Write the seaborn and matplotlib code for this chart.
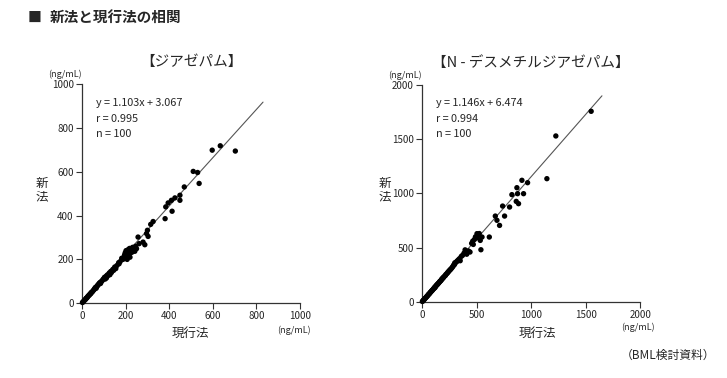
import numpy as np
import pandas as pd
import matplotlib
matplotlib.use('Agg')
import matplotlib.pyplot as plt
import seaborn as sns

# ジアゼパム (現行法, 新法)
dz_x = [2, 5, 8, 12, 15, 18, 20, 22, 25, 28, 32, 35, 38, 40, 42, 45, 48, 52, 55, 58,
        60, 63, 65, 66, 70, 72, 75, 78, 80, 84, 85, 88, 92, 96,
        100, 103, 106, 110, 112, 115, 118, 122, 125, 128, 132, 135, 138, 142, 145, 150,
        155, 160, 168, 170, 175, 182, 188,
        192, 195, 198, 200, 202, 205, 207, 210, 212, 215, 218, 220, 225, 228, 232, 236, 242, 246,
        250, 257, 262, 280, 288, 296, 300, 303, 315, 326, 381, 384, 395, 410, 413, 426,
        449, 449, 469, 510, 530, 537, 597, 634, 703]
dz_y = [3, 6, 9, 14, 16, 21, 22, 25, 27, 33, 35, 40, 42, 44, 48, 50, 53, 58, 62, 65,
        70, 72, 68, 75, 78, 82, 85, 88, 92, 95, 90, 98, 102, 108,
        112, 118, 110, 122, 115, 128, 125, 132, 138, 130, 145, 140, 148, 155, 150, 165,
        158, 172, 185, 180, 190, 205, 200,
        210, 220, 230, 215, 240, 225, 200, 235, 245, 222, 250, 210, 240, 232, 255, 248, 237, 260,
        249, 302, 272, 279, 267, 318, 333, 305, 360, 373, 386, 440, 458, 470, 420, 481,
        470, 493, 531, 602, 597, 547, 699, 719, 695]

# N-デスメチルジアゼパム (現行法, 新法)
nd_x = [3, 8, 12, 16, 20, 25, 30, 35, 40, 45, 50, 55, 60, 65, 70, 75, 80, 85, 90, 95,
        100, 105, 110, 115, 118, 120, 125, 130, 135, 140, 145, 150,
        155, 160, 165, 170, 175, 180, 185, 190, 195, 200, 208, 215, 220, 228, 235, 240,
        248, 255, 262, 270, 278, 285, 290, 298, 300,
        310, 318, 325, 335, 345, 350, 360, 372, 385, 395, 410, 425, 440,
        455, 465, 470, 480, 490, 500, 504, 515, 525, 534, 540, 550, 617,
        672, 687, 711, 739, 757, 803, 824, 864, 870, 876, 885, 916, 931, 968, 1145, 1227, 1551]
nd_y = [5, 10, 15, 18, 25, 30, 35, 40, 47, 52, 56, 65, 70, 74, 80, 88, 92, 98, 105, 108,
        115, 122, 125, 135, 132, 138, 145, 150, 158, 160, 168, 172,
        178, 185, 190, 195, 200, 210, 212, 220, 225, 230, 240, 245, 255, 262, 270, 278,
        285, 295, 300, 310, 320, 330, 340, 345, 360,
        365, 372, 380, 390, 400, 380, 420, 430, 450, 480, 440, 470, 460,
        540, 560, 530, 575, 600, 590, 629, 610, 630, 567, 481, 598, 598,
        791, 752, 705, 883, 791, 874, 988, 926, 1052, 997, 905, 1120, 997, 1098, 1135, 1528, 1755]

titles = ['【ジアゼパム】', '【N - デスメチルジアゼパム】']
equations = [['y = 1.103x + 3.067', 'r = 0.995', 'n = 100'],
             ['y = 1.146x + 6.474', 'r = 0.994', 'n = 100']]
slopes = [1.103, 1.146]
intercepts = [3.067, 6.474]
line_ends = [830, 1650]
limits = [1000, 2000]
tick_steps = [200, 500]

sns.set_style('white')
plt.rcParams['font.family'] = ['Noto Sans CJK JP', 'DejaVu Sans']

fig = plt.figure(figsize=(7.27, 3.78), dpi=100)
axes = [fig.add_axes([0.1128, 0.198, 0.300, 0.579]),
        fig.add_axes([0.5805, 0.201, 0.300, 0.575])]

# label positions (axes fractions) for x unit and x label
unit_pos = [(0.97, -0.125), (0.99, -0.117)]
xlab_pos = [(0.495, -0.14), (0.53, -0.145)]

datasets = [pd.DataFrame({'x': dz_x, 'y': dz_y}), pd.DataFrame({'x': nd_x, 'y': nd_y})]

for i, ax in enumerate(axes):
    df = datasets[i]
    sns.scatterplot(data=df, x='x', y='y', ax=ax, color='black', s=15,
                    edgecolor='none', zorder=3, clip_on=False)
    lx = np.array([0, line_ends[i]])
    ax.plot(lx, slopes[i] * lx + intercepts[i], color='#555555', lw=0.8, zorder=2)

    ax.set_xlim(0, limits[i])
    ax.set_ylim(0, limits[i])
    ax.set_xticks(np.arange(0, limits[i] + 1, tick_steps[i]))
    ax.set_yticks(np.arange(0, limits[i] + 1, tick_steps[i]))
    for s in ['top', 'right']:
        ax.spines[s].set_visible(False)
    for s in ['left', 'bottom']:
        ax.spines[s].set_color('#333333')
        ax.spines[s].set_linewidth(0.9)
    ax.tick_params(axis='both', direction='out', length=4, width=0.8,
                   labelsize=7, color='#333333', pad=2, left=True, bottom=True)
    ax.set_xlabel('')
    ax.set_ylabel('')

    ax.text(0.5, 1.10, titles[i], transform=ax.transAxes, ha='center',
            va='center', fontsize=10.5)
    ax.text(-0.08, 1.045, '(ng/mL)', transform=ax.transAxes, ha='center',
            va='center', fontsize=6.5)
    ax.text(unit_pos[i][0], unit_pos[i][1], '(ng/mL)', transform=ax.transAxes,
            ha='center', va='center', fontsize=6.5)
    ax.text(xlab_pos[i][0], xlab_pos[i][1], '現行法', transform=ax.transAxes,
            ha='center', va='center', fontsize=9)
    for k, line in enumerate(equations[i]):
        ax.text(0.065, 0.915 - k * 0.072, line, transform=ax.transAxes,
                ha='left', va='center', fontsize=7.8)

fig.text(42 / 727, 1 - 190 / 378, '新\n法', ha='center', va='center',
         fontsize=9, linespacing=1.0)
fig.text(385 / 727, 1 - 190 / 378, '新\n法', ha='center', va='center',
         fontsize=9, linespacing=1.0)

fig.text(28 / 727, 1 - 18 / 378, '■', ha='left', va='center', fontsize=10)
fig.text(50 / 727, 1 - 18 / 378, '新法と現行法の相関', ha='left', va='center',
         fontsize=10.5, fontweight='bold')
fig.text(715 / 727, 1 - 355 / 378, '（BML検討資料）', ha='right', va='center',
         fontsize=8.5)

plt.savefig('out.png', dpi=100)
plt.close()
